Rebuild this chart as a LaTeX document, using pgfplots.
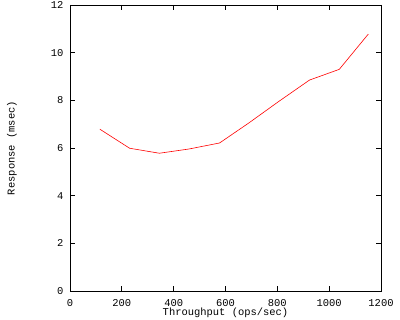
\documentclass[border=0pt]{standalone}
\usepackage{fontspec}
\setmainfont{Liberation Mono}
\usepackage{pgfplots}
\pgfplotsset{compat=1.18}
\begin{document}
\begin{tikzpicture}
\path[use as bounding box] (0,0) rectangle (400bp,320bp);
\begin{axis}[
  at={(70bp,29bp)}, anchor=south west,
  scale only axis, width=311bp, height=286bp,
  xmin=0, xmax=1200, ymin=0, ymax=12,
  xtick={0,200,...,1200}, ytick={0,2,...,12},
  tick align=inside, major tick length=5bp,
  tick style={black, line width=0.8pt},
  axis line style={line width=0.8pt},
  /pgf/number format/assume math mode=true,
  /pgf/number format/1000 sep={},
  tick label style={font=\fontsize{10.5}{10.5}\selectfont},
  xticklabel style={anchor=north, yshift=-4.5bp},
  yticklabel style={anchor=east, xshift=-3bp},
  label style={font=\fontsize{10.5}{10.5}\selectfont},
  xlabel={Throughput (ops/sec)},
  ylabel={Response (msec)},
  xlabel style={at={(axis description cs:0.5,-0.0769)}, anchor=center},
  ylabel style={at={(axis description cs:-0.1865,0.5)}, anchor=center},
]
\addplot[red, line width=0.6pt, mark=none] coordinates {
(115,6.79) (230,5.99) (345,5.78) (460,5.96) (577,6.21)
(690,7.05) (805,7.95) (924,8.85) (1039,9.3) (1151,10.78)
};
\end{axis}
\end{tikzpicture}
\end{document}
